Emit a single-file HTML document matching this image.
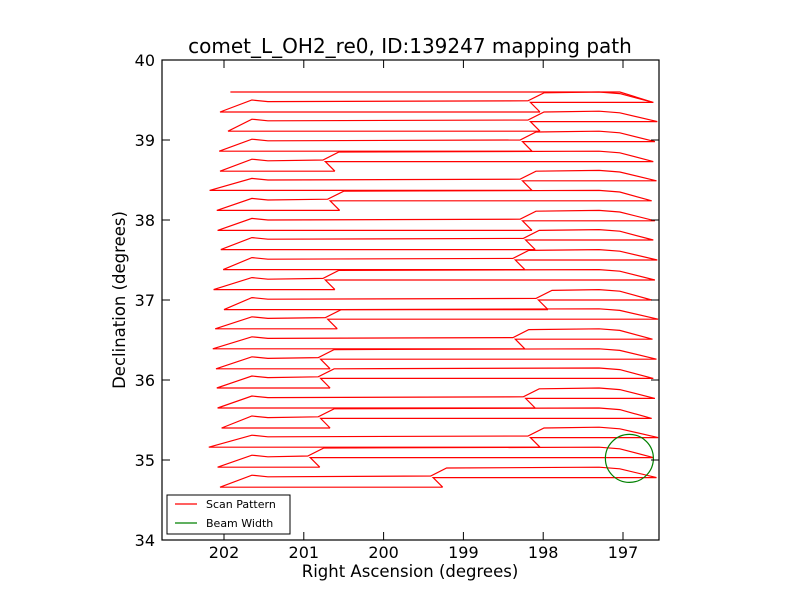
<!DOCTYPE html>
<html><head><meta charset="utf-8"><style>
body{margin:0;background:#fff;}
svg text{font-family:"DejaVu Sans","Liberation Sans",sans-serif;}
</style></head><body>
<svg id="chart" width="800" height="600" viewBox="0 0 800 600" xmlns="http://www.w3.org/2000/svg">
<rect x="0" y="0" width="800" height="600" fill="#fff"/>
<text x="410" y="53" font-size="20" text-anchor="middle">comet_L_OH2_re0, ID:139247 mapping path</text>
<g id="series"></g>
<circle id="beam" fill="none" stroke="#008000" stroke-width="1.2"/>
<rect x="162" y="60" width="497" height="480" fill="none" stroke="#000" stroke-width="1.2"/>
<g id="ticks"></g>
<text x="410" y="577" font-size="16.5" text-anchor="middle">Right Ascension (degrees)</text>
<text x="125" y="300" font-size="16.5" text-anchor="middle" transform="rotate(-90 125 300)">Declination (degrees)</text>
<g>
<rect x="167" y="495" width="123" height="39" fill="#fff" stroke="#000" stroke-width="1"/>
<line x1="175" y1="504" x2="197" y2="504" stroke="#ff0000" stroke-width="1.2"/>
<text x="206" y="508" font-size="11">Scan Pattern</text>
<line x1="175" y1="523" x2="197" y2="523" stroke="#008000" stroke-width="1.2"/>
<text x="206" y="527" font-size="11">Beam Width</text>
</g>
</svg>
<script>
const xTicks = [202, 201, 200, 199, 198, 197];
const yTicks = [34, 35, 36, 37, 38, 39, 40];
const bandDec = [34.66,34.91,35.16,35.40,35.65,35.90,36.14,36.39,36.64,36.88,37.13,37.38,37.63,37.87,38.12,38.37,38.61,38.86,39.11,39.35];
const leftRA  = [202.05,202.08,202.19,202.03,202.08,202.09,202.10,202.14,202.11,202.00,202.13,202.01,202.04,202.08,202.09,202.18,202.05,202.06,201.95,202.05];
const kinkRA  = [199.26,200.80,198.04,200.67,198.10,200.67,200.67,198.23,200.58,197.94,200.61,198.23,198.10,198.14,200.55,198.14,200.61,198.14,198.04,198.04];
const rightRA = [196.58,196.62,196.56,196.64,196.60,196.62,196.58,196.63,196.56,196.64,196.60,196.57,196.62,196.60,196.64,196.58,196.62,196.60,196.57,196.62];
const topLine = {ra:[201.92, 197.04], dec:[39.60, 39.60]};
const beam = {ra:196.92, dec:35.02, r:0.30};

const X = ra => 224 + (202 - ra) * 79.8;
const Y = dec => 60 + (40 - dec) * 80;
const NS = 'http://www.w3.org/2000/svg';
const series = document.getElementById('series');
const ticks = document.getElementById('ticks');

function mk(tag, attrs, parent){
  const e = document.createElementNS(NS, tag);
  for (const k in attrs) e.setAttribute(k, attrs[k]);
  parent.appendChild(e);
  return e;
}

xTicks.forEach(t => {
  const x = X(t);
  const a = mk('line', {x1:x, y1:540, x2:x, y2:532, stroke:'#000'}, ticks);
  
  
  const b = mk('line', {x1:x, y1:60, x2:x, y2:68, stroke:'#000'}, ticks);
  
  
  const tx = mk('text', {x:x, y:558, 'font-size':16, 'text-anchor':'middle'}, ticks);
  tx.textContent = String(t);
  
  
});
yTicks.forEach(t => {
  const y = Y(t);
  const a = mk('line', {x1:162, y1:y, x2:170, y2:y, stroke:'#000'}, ticks);
  
  
  const b = mk('line', {x1:659, y1:y, x2:651, y2:y, stroke:'#000'}, ticks);
  
  
  const tx = mk('text', {x:155, y:y+6, 'font-size':16, 'text-anchor':'end'}, ticks);
  tx.textContent = String(t);
  
  
});

bandDec.forEach((d, i) => {
  const pts = [
    [kinkRA[i], d],
    [leftRA[i], d],
    [201.65, d + 0.15],
    [201.45, d + 0.13],
    [kinkRA[i] + 0.15, d + 0.14],
    [kinkRA[i] - 0.05, d + 0.24],
    [197.3, d + 0.25],
    [197.04, d + 0.23],
    [rightRA[i], d + 0.12],
    [kinkRA[i] - 0.05, d + 0.12],
    [kinkRA[i] + 0.12, d + 0.12],
    [kinkRA[i], d]
  ];
  const p = mk('polyline', {points: pts.map(q => X(q[0]).toFixed(1) + ',' + Y(q[1]).toFixed(1)).join(' '), fill:'none', stroke:'#ff0000', 'stroke-width':1.2}, series);
  
  
});
const tl = mk('polyline', {points: topLine.ra.map((r, i) => X(r) + ',' + Y(topLine.dec[i])).join(' ') + ' ' + X(rightRA[19]) + ',' + Y(bandDec[19] + 0.12), fill:'none', stroke:'#ff0000', 'stroke-width':1.2}, series);



const c = document.getElementById('beam');
c.setAttribute('cx', X(beam.ra));
c.setAttribute('cy', Y(beam.dec));
c.setAttribute('r', beam.r * 80);
</script>
</body></html>
